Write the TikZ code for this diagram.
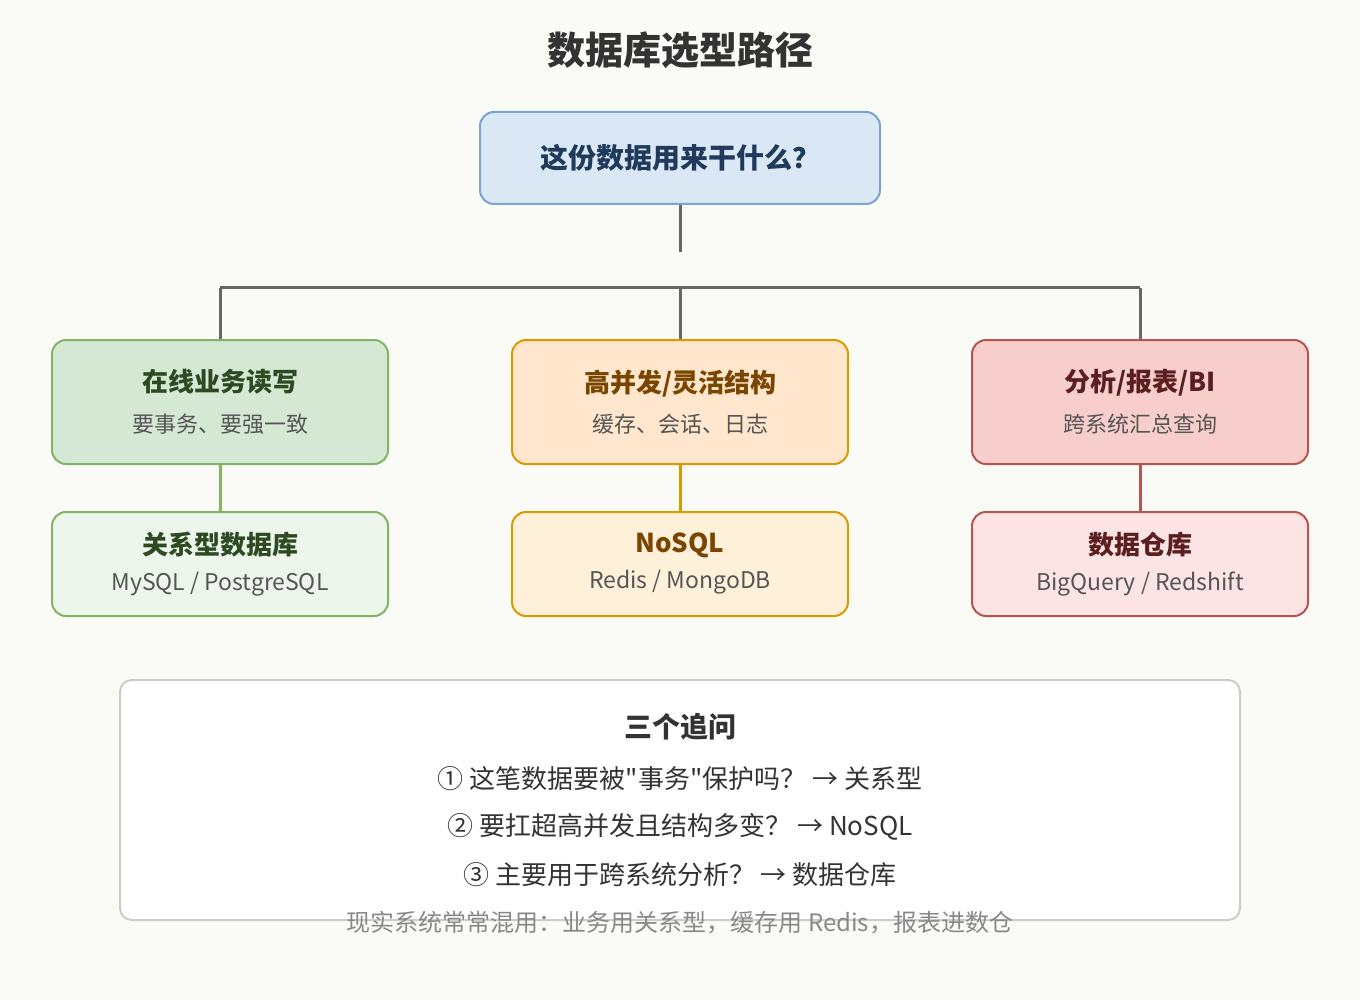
\documentclass[tikz,border=0pt]{standalone}
\usepackage{fontspec}
\newfontfamily\cjk{Noto Sans CJK SC}
\definecolor{bg}{HTML}{FAFAF6}
\definecolor{ink}{HTML}{333333}
\definecolor{wire}{HTML}{666666}
\definecolor{sub}{HTML}{555555}
\definecolor{bfill}{HTML}{DAE8F5}
\definecolor{bline}{HTML}{7BA3CC}
\definecolor{btxt}{HTML}{1F3A5A}
\definecolor{gfill}{HTML}{D5E8D4}
\definecolor{gfilll}{HTML}{EDF6EA}
\definecolor{gline}{HTML}{82B366}
\definecolor{gtxt}{HTML}{2D4A22}
\definecolor{ofill}{HTML}{FFE6CC}
\definecolor{ofilll}{HTML}{FFF0DA}
\definecolor{oline}{HTML}{D79B00}
\definecolor{otxt}{HTML}{7A4500}
\definecolor{rfill}{HTML}{F8CECC}
\definecolor{rfilll}{HTML}{FCE4E4}
\definecolor{rline}{HTML}{B85450}
\definecolor{rtxt}{HTML}{5C1F1F}
\definecolor{frame}{HTML}{CCCCCC}
\definecolor{note}{HTML}{888888}
\begin{document}
\begin{tikzpicture}[x=1pt,y=-1pt]
    \tikzstyle{box}=[rounded corners=14pt,line width=2pt,minimum width=336pt,inner sep=0pt,align=center,text=sub]
    \tikzstyle{upper}=[box,minimum height=124pt,font=\cjk\fontsize{22}{40.5}\selectfont]
    \tikzstyle{lower}=[box,minimum height=104pt,font=\cjk\fontsize{23}{36}\selectfont]
    \tikzstyle{link}=[line width=3pt]
    \tikzstyle{line}=[inner sep=0pt,font=\cjk\fontsize{26}{30}\selectfont,text=ink]
    \fill[bg] (0,0) rectangle (1360,1000);
    \useasboundingbox (0,0) rectangle (1360,1000);
    \node[inner sep=0pt,font=\cjk\bfseries\fontsize{38}{44}\selectfont,text=ink] (title) at (680,50) {数据库选型路径};
    \node[box,minimum width=400pt,minimum height=92pt,fill=bfill,draw=bline,text=btxt,font=\cjk\bfseries\fontsize{28}{32}\selectfont] (q) at (680,158) {这份数据用来干什么？};
    \node[upper,fill=gfill,draw=gline] (g1) at (220,402) {{\color{gtxt}\bfseries\fontsize{26}{40.5}\selectfont 在线业务读写}\\要事务、要强一致};
    \node[upper,fill=ofill,draw=oline] (o1) at (680,402) {{\color{otxt}\bfseries\fontsize{26}{40.5}\selectfont 高并发/灵活结构}\\缓存、会话、日志};
    \node[upper,fill=rfill,draw=rline] (r1) at (1140,402) {{\color{rtxt}\bfseries\fontsize{26}{40.5}\selectfont 分析/报表/BI}\\跨系统汇总查询};
    \node[lower,fill=gfilll,draw=gline] (g2) at (220,564) {{\color{gtxt}\bfseries\fontsize{26}{36}\selectfont 关系型数据库}\\MySQL / PostgreSQL};
    \node[lower,fill=ofilll,draw=oline] (o2) at (680,564) {{\color{otxt}\bfseries\fontsize{26}{36}\selectfont NoSQL}\\Redis / MongoDB};
    \node[lower,fill=rfilll,draw=rline] (r2) at (1140,564) {{\color{rtxt}\bfseries\fontsize{26}{36}\selectfont 数据仓库}\\BigQuery / Redshift};
    \coordinate (t) at (680,252);
    \coordinate (jl) at (220,288);
    \coordinate (jm) at (680,288);
    \coordinate (jr) at (1140,288);
    \draw[link,wire] (q) -- (t);
    \draw[link,wire] (jl) -- (jr);
    \draw[link,wire] (jl) -- (g1);
    \draw[link,wire] (jm) -- (o1);
    \draw[link,wire] (jr) -- (r1);
    \draw[link,gline] (g1) -- (g2);
    \draw[link,oline] (o1) -- (o2);
    \draw[link,rline] (r1) -- (r2);
    \node[draw=frame,fill=white,line width=2pt,rounded corners=12pt,minimum width=1120pt,minimum height=240pt] (ask) at (680,800) {};
    \node[line,font=\cjk\bfseries\fontsize{28}{32}\selectfont] (head) at (680,727) {三个追问};
    \node[line] (a1) at (680,779) {① 这笔数据要被"事务"保护吗？ → 关系型};
    \node[line] (a2) at (680,827) {② 要扛超高并发且结构多变？ → NoSQL};
    \node[line] (a3) at (680,875) {③ 主要用于跨系统分析？ → 数据仓库};
    \node[line,text=note,font=\cjk\fontsize{24}{28}\selectfont] (mix) at (680,923) {现实系统常常混用：业务用关系型，缓存用 Redis，报表进数仓};
\end{tikzpicture}
\end{document}
